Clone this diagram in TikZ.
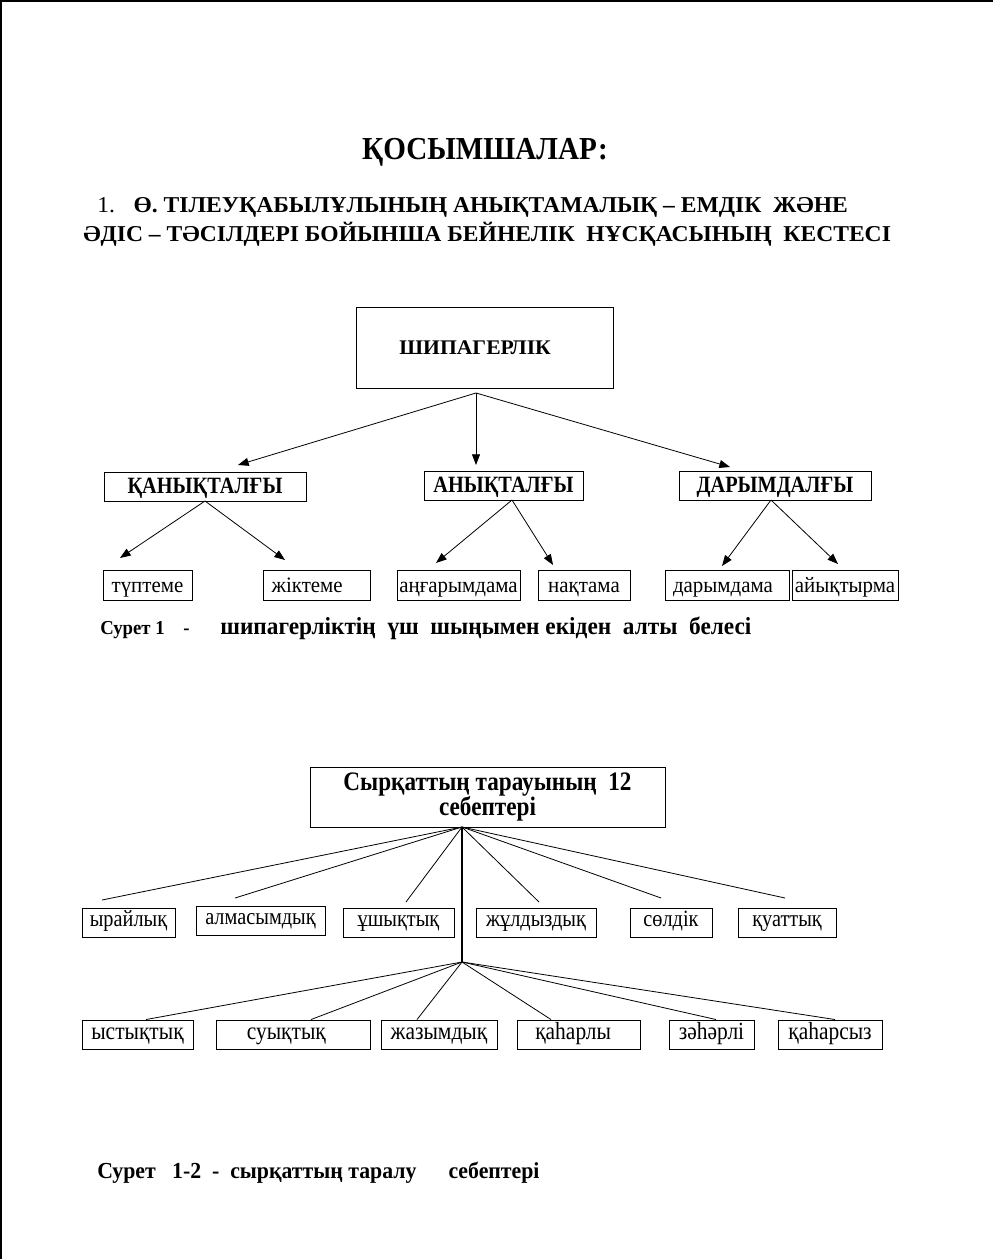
\documentclass[tikz,border=0pt]{standalone}
\usepackage{fontspec}
\setmainfont{Liberation Serif}
\newfontfamily\titlefont{Liberation Serif}[FakeStretch=0.91]
\newfontfamily\narrowfont{Liberation Serif}[FakeStretch=0.87]
\newfontfamily\boxfont{Liberation Serif}[FakeStretch=0.95]
\newfontfamily\widefont{Liberation Serif}[FakeStretch=1.04]
\usetikzlibrary{arrows.meta}

\tikzset{
  frame/.style={draw, line width=0.7pt, inner sep=0pt},
  sz/.style 2 args={minimum width=#1*0.75pt, minimum height=#2*0.75pt},
  tophead/.style={font=\widefont\bfseries\fontsize{15.6}{18}\selectfont},
  midhead/.style={font=\narrowfont\bfseries\fontsize{17.5}{19}\selectfont, text height=12pt, text depth=0.8pt},
  leaf/.style={font=\boxfont\fontsize{16.5}{18}\selectfont, text height=11pt, text depth=0.5pt},
  cause/.style={font=\narrowfont\fontsize{17.5}{19}\selectfont, text height=9.5pt, text depth=4pt},
  causelow/.style={font=\narrowfont\fontsize{18.5}{20}\selectfont, text height=10.5pt, text depth=3.5pt},
  arr/.style={-{Triangle[length=8pt,width=6pt]}, line width=0.6pt},
  link/.style={line width=0.6pt},
}

\begin{document}
\begin{tikzpicture}[x=0.75pt, y=-0.75pt]
\useasboundingbox (0,0) rectangle (993,1259);
\draw[line width=1.5pt] (0,1) -- (993,1);
\draw[line width=1.5pt] (1,0) -- (1,1259);

% headings
\node[anchor=base, font=\titlefont\bfseries\fontsize{24}{28}\selectfont] (title) at (485,160) {ҚОСЫМШАЛАР:};
\node[anchor=base west, font=\widefont\fontsize{17}{20}\selectfont, inner sep=0pt] (head1) at (97,212)
  {1.\hspace{14pt}\textbf{Ө. ТІЛЕУҚАБЫЛҰЛЫНЫҢ АНЫҚТАМАЛЫҚ – ЕМДІК\ \ ЖӘНЕ}};
\node[anchor=base west, font=\widefont\bfseries\fontsize{17}{20}\selectfont, inner sep=0pt] (head2) at (83,241)
  {ӘДІС – ТӘСІЛДЕРІ БОЙЫНША БЕЙНЕЛІК\ \ НҰСҚАСЫНЫҢ\ \ КЕСТЕСІ};

% first scheme
\node[frame, sz={257}{81}, tophead] (ship) at (484.5,347.5) {ШИПАГЕРЛІК\hspace*{14pt}};
\node[frame, sz={202}{29}, midhead] (qan) at (205,486.5) {ҚАНЫҚТАЛҒЫ};
\node[frame, sz={159}{29}, midhead] (anyq) at (503.5,485.5) {АНЫҚТАЛҒЫ};
\node[frame, sz={192}{29}, midhead] (dar) at (775,485.5) {ДАРЫМДАЛҒЫ};

\node[frame, sz={89}{30}, leaf] (tupt) at (147.5,585) {түптеме};
\node[frame, sz={107}{30}, leaf] (zhikt) at (316.5,585) {жіктеме\hspace*{14pt}};
\node[frame, sz={123}{30}, leaf] (angar) at (458.5,585) {аңғарымдама};
\node[frame, sz={92}{30}, leaf] (nakt) at (584,585) {нақтама};
\node[frame, sz={124}{30}, leaf] (darym) at (727,585) {дарымдама\hspace*{6pt}};
\node[frame, sz={106}{30}, leaf] (aiyk) at (845,585) {айықтырма};

\coordinate (shipfork) at (476,393);
\coordinate (qanend) at (238,465);
\coordinate (anyqend) at (476,465);
\coordinate (darend) at (730,467);
\draw[arr] (shipfork) -- (qanend);
\draw[arr] (shipfork) -- (anyqend);
\draw[arr] (shipfork) -- (darend);

\coordinate (qanfork) at (205,501);
\coordinate (anyqfork) at (512,500);
\coordinate (darfork) at (771,500);
\coordinate (tuptend) at (120,558);
\coordinate (zhiktend) at (285,560);
\coordinate (angarend) at (436,563);
\coordinate (naktend) at (553,565);
\coordinate (darymend) at (722,566);
\coordinate (aiykend) at (838,564);
\draw[arr] (qanfork) -- (tuptend);
\draw[arr] (qanfork) -- (zhiktend);
\draw[arr] (anyqfork) -- (angarend);
\draw[arr] (anyqfork) -- (naktend);
\draw[arr] (darfork) -- (darymend);
\draw[arr] (darfork) -- (aiykend);

\node[anchor=base west, inner sep=0pt, font=\boxfont\bfseries\fontsize{14.8}{17}\selectfont] (cap1) at (100,634)
  {Сурет 1\ \ \ \ -\hspace{23pt}{\fontsize{18.4}{20}\selectfont шипагерліктің\ \ үш\ \ шыңымен екіден\ \ алты\ \ белесі}};

% second scheme
\node[frame, sz={355}{60}, align=center, font=\narrowfont\bfseries\fontsize{20}{19}\selectfont] (cause12) at (487.5,797)
  {Сырқаттың тарауының\ \ 12\\себептері};
\coordinate (topfork) at (462,827);
\coordinate (lowfork) at (462,962);
\draw[line width=2.2pt] (topfork) -- (lowfork);

\node[frame, sz={93}{29}, cause] (yrai) at (128.5,922.5) {ырайлық};
\node[frame, sz={129}{29}, cause] (almas) at (260.5,920.5) {алмасымдық};
\node[frame, sz={111}{29}, cause] (ushyk) at (398.5,922.5) {ұшықтық};
\node[frame, sz={120}{29}, cause] (zhuld) at (536,922.5) {жұлдыздық};
\node[frame, sz={82}{29}, cause] (sold) at (671,922.5) {сөлдік};
\node[frame, sz={98}{29}, cause] (kuat) at (787,922.5) {қуаттық};

\coordinate (yraiend) at (102,900);
\coordinate (almasend) at (235,898);
\coordinate (ushykend) at (406,902);
\coordinate (zhuldend) at (539,902);
\coordinate (soldend) at (661,898);
\coordinate (kuatend) at (785,898);
\draw[link] (topfork) -- (yraiend);
\draw[link] (topfork) -- (almasend);
\draw[link] (topfork) -- (ushykend);
\draw[link] (topfork) -- (zhuldend);
\draw[link] (topfork) -- (soldend);
\draw[link] (topfork) -- (kuatend);

\node[frame, sz={111}{29}, causelow] (ystyk) at (137.5,1034.5) {ыстықтық};
\node[frame, sz={154}{29}, causelow] (suyk) at (293,1034.5) {суықтық\hspace*{10pt}};
\node[frame, sz={116}{29}, causelow] (zhazym) at (439,1034.5) {жазымдық};
\node[frame, sz={123}{29}, causelow] (kahar) at (578.5,1034.5) {қаһарлы\hspace*{8pt}};
\node[frame, sz={85}{29}, causelow] (zahar) at (711.5,1034.5) {зәһәрлі};
\node[frame, sz={104}{29}, causelow] (kaharsyz) at (830,1034.5) {қаһарсыз};

\draw[link] (lowfork) -- (ystyk.north -| 146,0);
\draw[link] (lowfork) -- (suyk.north -| 311,0);
\draw[link] (lowfork) -- (zhazym.north -| 417,0);
\draw[link] (lowfork) -- (kahar.north -| 551,0);
\draw[link] (lowfork) -- (zahar.north -| 716,0);
\draw[link] (lowfork) -- (kaharsyz.north -| 835,0);

\node[anchor=base west, inner sep=0pt, font=\boxfont\bfseries\fontsize{17.2}{19}\selectfont] (cap2) at (97,1178)
  {Сурет\ \ \ 1-2\ \ -\ \ сырқаттың таралу\hspace{24pt}себептері};
\end{tikzpicture}
\end{document}
